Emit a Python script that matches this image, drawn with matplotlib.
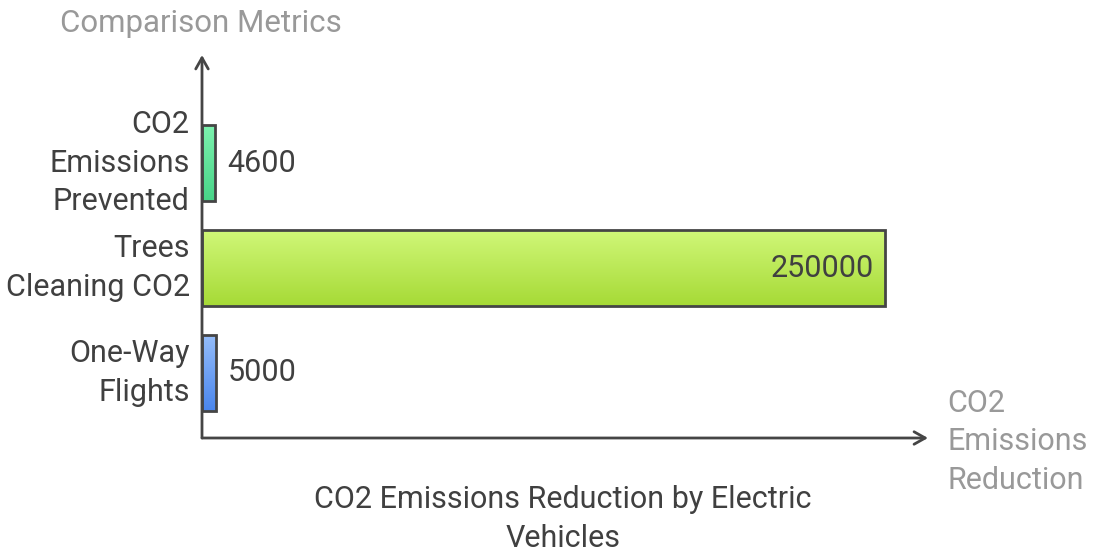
import matplotlib
matplotlib.use("Agg")
import matplotlib.pyplot as plt
import numpy as np
from matplotlib.colors import LinearSegmentedColormap

plt.rcParams['font.family'] = ['Roboto', 'DejaVu Sans']

categories = ["One-Way\nFlights", "Trees\nCleaning CO2", "CO2\nEmissions\nPrevented"]
values = [5000, 250000, 4600]
top_colors = ["#94bdfa", "#d0f778", "#7cf2ae"]
bot_colors = ["#4a86ee", "#a6da36", "#48d488"]
x_title = "CO2\nEmissions\nReduction"
y_title = "Comparison Metrics"
title = "CO2 Emissions Reduction by Electric\nVehicles"

FS = 22
LS = 1.4
W, H = 1098, 554
fig = plt.figure(figsize=(W / 100, H / 100), dpi=100)
x0, x1 = 202, 928
y0, y1 = 438, 55
ax = fig.add_axes([x0 / W, 1 - y0 / H, (x1 - x0) / W, (y0 - y1) / H])
px_per_val = 683 / 250000
ax.set_xlim(0, (x1 - x0) / px_per_val)
ax.set_ylim(-0.62, 3.03)
ax.axis('off')

bar_h = 0.72
edge = "#454545"
txt = "#404040"
for i, (v, tc, bc) in enumerate(zip(values, top_colors, bot_colors)):
    cmap = LinearSegmentedColormap.from_list("g", [bc, tc])
    grad = np.linspace(0, 1, 100).reshape(-1, 1)
    im = ax.imshow(grad, cmap=cmap, aspect='auto', origin='lower',
                   extent=[0, v, i - bar_h / 2, i + bar_h / 2], zorder=2)
    rect = plt.Rectangle((0, i - bar_h / 2), v, bar_h, facecolor='none',
                         edgecolor=edge, lw=2, zorder=3)
    ax.add_patch(rect)
    im.set_clip_path(rect)
    if v > 100000:
        ax.text(v - 4000, i, str(v), ha='right', va='center', fontsize=FS,
                color=txt, zorder=4)
    else:
        ax.text(v + 4500, i, str(v), ha='left', va='center', fontsize=FS,
                color=txt, zorder=4)
    ax.text(-4500, i, categories[i], ha='right', va='center', fontsize=FS,
            color=txt, linespacing=LS)

# axes arrows
ax.annotate("", xy=(0, 3.03), xytext=(0, -0.62),
            arrowprops=dict(arrowstyle="->,head_length=0.8,head_width=0.45", color=edge, lw=2,
                            shrinkA=0, shrinkB=0), annotation_clip=False)
ax.annotate("", xy=(ax.get_xlim()[1], -0.62), xytext=(0, -0.62),
            arrowprops=dict(arrowstyle="->,head_length=0.8,head_width=0.45", color=edge, lw=2,
                            shrinkA=0, shrinkB=0), annotation_clip=False)

fig.text(60 / W, 1 - 24 / H, y_title, ha='left', va='center', fontsize=22.5, color="#999999")
fig.text(947 / W, 1 - 442 / H, x_title, ha='left', va='center', fontsize=FS,
         color="#999999", linespacing=LS)
fig.text(563 / W, 1 - 519 / H, title, ha='center', va='center', fontsize=FS,
         color=txt, linespacing=LS)

fig.savefig("out.png", dpi=100, facecolor='white')
